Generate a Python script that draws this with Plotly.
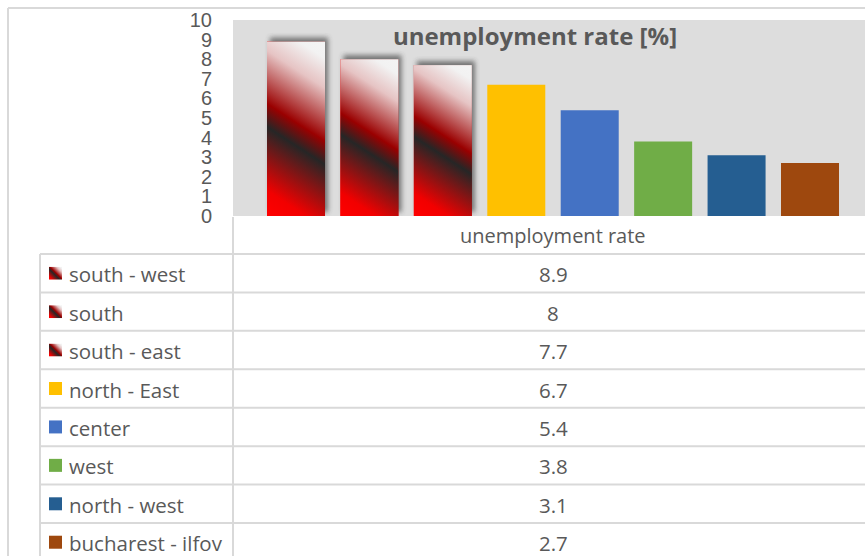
import base64
import math
import plotly.graph_objects as go

# Unemployment rate by development region
regions = ["south - west", "south", "south - east", "north - East",
           "center", "west", "north - west", "bucharest - ilfov"]
rates = [8.9, 8, 7.7, 6.7, 5.4, 3.8, 3.1, 2.7]
series_name = "unemployment rate"
chart_title = "unemployment rate [%]"
y_ticks = list(range(0, 11))

# Fill styles: the three highest regions use a gradient, the rest solid colours
gradient_regions = {"south - west", "south", "south - east"}
solid_colors = {
    "north - East": "#FFC000",
    "center": "#4472C4",
    "west": "#70AD47",
    "north - west": "#255E91",
    "bucharest - ilfov": "#9E480E",
}

W, H = 865, 556
PL, PR, PT, PB = 233, 865, 20, 216          # plot area in pixels
X_RANGE = [-0.858, 7.749]
Y_RANGE = [0, 10]
BAR_W = 0.79
px_per_x = (PR - PL) / (X_RANGE[1] - X_RANGE[0])
px_per_y = (PB - PT) / (Y_RANGE[1] - Y_RANGE[0])

TEXT = "#595959"
GRID = "#D9D9D9"
FONT = "Open Sans"

GRAD_STOPS = [(0.0, "#FF0000"), (0.12, "#F20000"), (0.42, "#262626"),
              (0.53, "#9A0000"), (0.78, "#E6C4C4"), (0.92, "#F2F2F2"),
              (1.0, "#F4F4F4")]


def stops_svg():
    return "".join(f'<stop offset="{o}" stop-color="{c}"/>' for o, c in GRAD_STOPS)


def bar_svg(w, h, m=9, theta=57):
    """Gradient-filled bar with a soft drop shadow, as an SVG data URI."""
    t = math.radians(theta)
    L = w * math.cos(t) + h * math.sin(t)
    x1, y1 = m, m + h
    x2, y2 = m + L * math.cos(t), m + h - L * math.sin(t)
    cw, ch = w + 2 * m, h + 2 * m
    svg = (
        f'<svg xmlns="http://www.w3.org/2000/svg" width="{cw:.1f}" height="{ch:.1f}" '
        f'viewBox="0 0 {cw:.2f} {ch:.2f}" preserveAspectRatio="none">'
        '<defs>'
        '<filter id="b" x="-50%" y="-50%" width="200%" height="200%">'
        '<feGaussianBlur stdDeviation="2.4"/></filter>'
        f'<linearGradient id="g" gradientUnits="userSpaceOnUse" x1="{x1:.2f}" y1="{y1:.2f}" '
        f'x2="{x2:.2f}" y2="{y2:.2f}">{stops_svg()}</linearGradient>'
        '</defs>'
        f'<rect x="{m + 3}" y="{m - 4}" width="{w:.2f}" height="{h:.2f}" fill="#3a3a3a" '
        'opacity="0.65" filter="url(#b)"/>'
        f'<rect x="{m}" y="{m}" width="{w:.2f}" height="{h:.2f}" fill="url(#g)"/>'
        '</svg>'
    )
    return "data:image/svg+xml;base64," + base64.b64encode(svg.encode()).decode(), m


def icon_svg(s=13):
    svg = (
        f'<svg xmlns="http://www.w3.org/2000/svg" width="{s}" height="{s}" viewBox="0 0 {s} {s}">'
        f'<defs><linearGradient id="g" x1="0" y1="1" x2="1" y2="0">{stops_svg()}</linearGradient></defs>'
        f'<rect width="{s}" height="{s}" fill="url(#g)"/></svg>'
    )
    return "data:image/svg+xml;base64," + base64.b64encode(svg.encode()).decode()


def paper_x(px):
    return (px - PL) / (PR - PL)


def paper_y(py):
    return (PB - py) / (PB - PT)


xs = list(range(len(regions)))
bar_colors = ["#FF0000" if r in gradient_regions else solid_colors[r] for r in regions]

fig = go.Figure(go.Bar(
    x=xs, y=rates, width=BAR_W,
    marker=dict(color=bar_colors, line=dict(width=0)),
    hoverinfo="skip",
))

images = []
shapes = []
annotations = []

# gradient bars, positioned in data coordinates over the bar trace
for i, (r, v) in enumerate(zip(regions, rates)):
    if r not in gradient_regions:
        continue
    wpx = BAR_W * px_per_x
    hpx = v * px_per_y
    src, m = bar_svg(wpx, hpx)
    images.append(dict(
        source=src, xref="x", yref="y",
        x=i - BAR_W / 2 - m / px_per_x, y=v + m / px_per_y,
        sizex=BAR_W + 2 * m / px_per_x, sizey=v + 2 * m / px_per_y,
        sizing="stretch", xanchor="left", yanchor="top", layer="above",
    ))

# outer chart frame
shapes.append(dict(type="line", xref="paper", yref="paper",
                   x0=paper_x(8), x1=paper_x(870), y0=paper_y(8), y1=paper_y(8),
                   line=dict(color=GRID, width=2)))
shapes.append(dict(type="line", xref="paper", yref="paper",
                   x0=paper_x(8), x1=paper_x(8), y0=paper_y(8), y1=paper_y(560),
                   line=dict(color=GRID, width=2)))

# data table beneath the plot
TBL_L, TBL_SPLIT, TBL_R = 40, 233, 873
HDR_TOP, ROW0, ROW_H = 216, 254, 38.43
VAL_X = (TBL_SPLIT + TBL_R) / 2

annotations.append(dict(text=series_name, xref="paper", yref="paper",
                        x=paper_x(VAL_X), y=paper_y((HDR_TOP + ROW0) / 2 + 1),
                        xanchor="center", yanchor="middle", showarrow=False,
                        font=dict(family=FONT, size=20, color=TEXT)))

n = len(regions)
for k in range(n + 1):
    yy = ROW0 + k * ROW_H
    shapes.append(dict(type="line", xref="paper", yref="paper",
                       x0=paper_x(TBL_L), x1=paper_x(TBL_R), y0=paper_y(yy), y1=paper_y(yy),
                       line=dict(color=GRID, width=2)))
shapes.append(dict(type="line", xref="paper", yref="paper",
                   x0=paper_x(TBL_L), x1=paper_x(TBL_L), y0=paper_y(ROW0), y1=paper_y(ROW0 + n * ROW_H),
                   line=dict(color=GRID, width=2)))
shapes.append(dict(type="line", xref="paper", yref="paper",
                   x0=paper_x(TBL_SPLIT), x1=paper_x(TBL_SPLIT), y0=paper_y(HDR_TOP + 1),
                   y1=paper_y(ROW0 + n * ROW_H),
                   line=dict(color=GRID, width=2)))

ICON = 13
for k, (r, v) in enumerate(zip(regions, rates)):
    cy = ROW0 + (k + 0.5) * ROW_H
    if r in gradient_regions:
        images.append(dict(source=icon_svg(ICON), xref="paper", yref="paper",
                           x=paper_x(49), y=paper_y(cy - ICON / 2),
                           sizex=ICON / (PR - PL), sizey=ICON / (PB - PT),
                           sizing="stretch", xanchor="left", yanchor="top", layer="above"))
    else:
        shapes.append(dict(type="rect", xref="paper", yref="paper",
                           x0=paper_x(49), x1=paper_x(49 + ICON),
                           y0=paper_y(cy - ICON / 2), y1=paper_y(cy + ICON / 2),
                           fillcolor=solid_colors[r], line=dict(width=0)))
    annotations.append(dict(text=r, xref="paper", yref="paper",
                            x=paper_x(67), y=paper_y(cy + 1), xanchor="left", yanchor="middle",
                            showarrow=False, font=dict(family=FONT, size=20.5, color=TEXT)))
    annotations.append(dict(text=f"{v:g}", xref="paper", yref="paper",
                            x=paper_x(VAL_X), y=paper_y(cy + 1), xanchor="center", yanchor="middle",
                            showarrow=False, font=dict(family=FONT, size=20.5, color=TEXT)))

fig.update_layout(
    width=W, height=H,
    margin=dict(l=PL, r=W - PR, t=PT, b=H - PB, pad=0),
    paper_bgcolor="#FFFFFF",
    plot_bgcolor="#DDDDDD",
    showlegend=False,
    title=dict(text=f"<b>{chart_title}</b>", xref="paper", yref="container",
               x=paper_x(535), y=1 - 37 / H, xanchor="center", yanchor="middle",
               font=dict(family=FONT, size=24, color=TEXT)),
    xaxis=dict(range=X_RANGE, showticklabels=False, showgrid=False, zeroline=False,
               showline=False, ticks="", fixedrange=True),
    yaxis=dict(range=Y_RANGE, tickmode="array", tickvals=y_ticks,
               ticktext=[str(t) for t in y_ticks],
               showgrid=False, zeroline=False, showline=False, ticks="",
               ticklabelstandoff=20,
               tickfont=dict(family="Liberation Sans", size=20, color=TEXT)),
    images=images,
    shapes=shapes,
    annotations=annotations,
)

fig.write_html("out.html")
